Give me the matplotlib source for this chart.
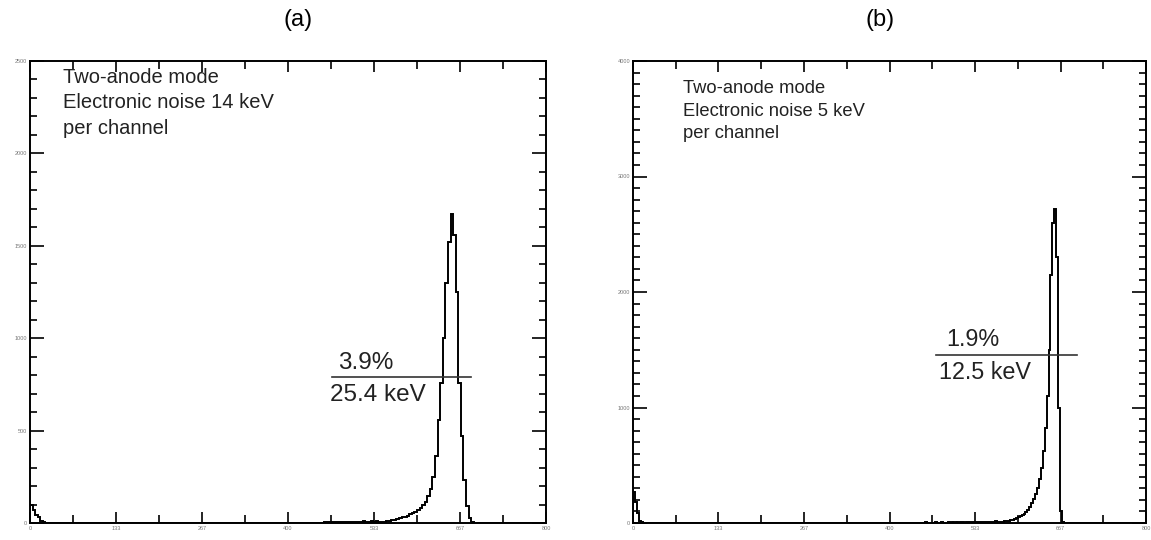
import numpy as np
import matplotlib.pyplot as plt
from matplotlib.ticker import FixedLocator, FixedFormatter, MultipleLocator

plt.rcParams['font.family'] = ['Liberation Sans', 'DejaVu Sans']

# x tick labels shared by both panels (channel number)
x_ticks = [0, 133.33, 266.67, 400, 533.33, 666.67, 800]
x_labels = ['0', '133', '267', '400', '533', '667', '800']

# panel (a): 4-channel bins
a_width = 4
a_low = [97, 70, 45, 32, 11, 4]                 # from channel 0
a_bg_start = 456
a_counts = [4, 6, 3, 5, 4, 6, 5, 4, 7, 5, 6, 8, 5, 7, 6, 9, 7, 8, 10, 8, 9,
            6, 7, 8, 10, 12, 14, 17, 20, 25, 30, 34, 40, 48, 55, 62,
            70, 80, 95, 115, 145, 185, 250, 360, 560, 760, 1000, 1300,
            1520, 1670, 1560, 1250, 760, 470, 230, 90, 25, 5]
a_fwhm = (468, 684, 790)
a_yticks = [0, 500, 1000, 1500, 2000, 2500]

# panel (b): 3-channel bins
b_width = 3
b_low = [270, 180, 90, 20, 5]                   # from channel 0
b_bg_start = 450
b_counts = [3, 0, 5, 2, 4, 0, 3, 6, 4, 2, 5, 3, 0, 4, 6, 3, 5, 4, 7, 3,
            5, 6, 4, 8, 5, 6, 7, 5, 9, 6, 8, 7, 10, 8, 9, 12, 10, 11, 13, 9,
            8, 10, 12, 14, 17, 20, 24, 28, 33, 40, 48, 57, 68, 80, 95, 115,
            140, 170, 205, 250, 300, 380, 480, 620, 820, 1100, 1500, 2150,
            2600, 2720, 2300, 1000, 100, 10]
b_fwhm = (472, 693, 1455)
b_yticks = [0, 1000, 2000, 3000, 4000]


def fill(width, low, start, counts):
    edges = np.arange(0, 800 + width, width)
    h = np.zeros(len(edges) - 1)
    h[:len(low)] = low
    i0 = start // width
    h[i0:i0 + len(counts)] = counts
    return edges, h


def panel(ax, width, low, start, counts, yticks, fwhm, noise, pct, kev,
          txt_xy, txt_size, txt_ls, pct_xy, kev_xy, ann_size):
    edges, h = fill(width, low, start, counts)
    ax.stairs(h, edges, color='black', lw=1.4)
    ax.set_xlim(0, 800)
    ax.set_ylim(0, yticks[-1])

    ax.xaxis.set_major_locator(FixedLocator(x_ticks))
    ax.xaxis.set_major_formatter(FixedFormatter(x_labels))
    ax.xaxis.set_minor_locator(MultipleLocator(800 / 12))
    ax.set_yticks(yticks)
    ax.yaxis.set_minor_locator(MultipleLocator(100))
    ax.tick_params(which='both', direction='in', top=True, right=True,
                   labelsize=4, labelcolor='#777777', width=1.2, pad=2)
    ax.tick_params(axis='y', which='major', length=10)
    ax.tick_params(axis='y', which='minor', length=5)
    ax.tick_params(axis='x', which='major', length=8)
    ax.tick_params(axis='x', which='minor', length=6)
    for s in ax.spines.values():
        s.set_linewidth(1.4)

    # FWHM marker
    ax.plot([fwhm[0], fwhm[1]], [fwhm[2], fwhm[2]], color='#333333', lw=1.2)
    ax.text(*txt_xy, 'Two-anode mode\nElectronic noise %s\nper channel' % noise,
            transform=ax.transAxes, fontsize=txt_size, va='top', ha='left',
            linespacing=txt_ls, color='#222222')
    ax.text(*pct_xy, pct, fontsize=ann_size, ha='left', va='center',
            color='#222222')
    ax.text(*kev_xy, kev, fontsize=ann_size, ha='left', va='center',
            color='#222222')


fig = plt.figure(figsize=(11.51, 5.40), dpi=100)
ax_a = fig.add_axes([30 / 1151, 17 / 540, 516 / 1151, 462 / 540])
ax_b = fig.add_axes([633 / 1151, 17 / 540, 513 / 1151, 462 / 540])

panel(ax_a, a_width, a_low, a_bg_start, a_counts, a_yticks, a_fwhm,
      '14 keV', '3.9%', '25.4 keV', (0.064, 0.985), 14.5, 1.42,
      (477, 865), (465, 695), 17.5)
panel(ax_b, b_width, b_low, b_bg_start, b_counts, b_yticks, b_fwhm,
      '5 keV', '1.9%', '12.5 keV', (0.097, 0.958), 13.2, 1.4,
      (488, 1585), (477, 1300), 16.8)

fig.text(298 / 1151, 1 - 20 / 540, '(a)', fontsize=17, ha='center', va='center')
fig.text(880 / 1151, 1 - 20 / 540, '(b)', fontsize=17, ha='center', va='center')

fig.savefig('out.png', dpi=100)
